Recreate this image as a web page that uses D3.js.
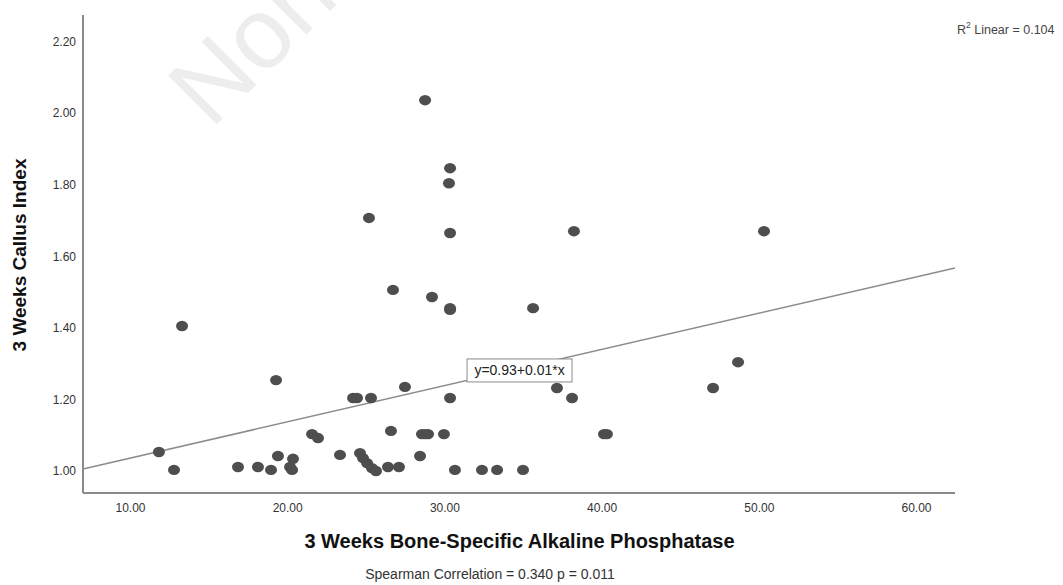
<!DOCTYPE html>
<html>
<head>
<meta charset="utf-8">
<script src="https://cdn.jsdelivr.net/npm/d3@7"></script>
<style>
  html, body { margin: 0; padding: 0; background: #fff; }
  svg { display: block; font-family: "Liberation Sans", Arial, sans-serif; }
</style>
</head>
<body>
<svg id="chart" width="1063" height="585"></svg>
<script>
// ---- data ----
const bsapValues = [11.84, 12.80, 13.31, 16.87, 18.14, 18.97, 19.29, 19.41, 20.18, 20.31, 20.37,
  21.58, 21.96, 23.36, 24.19, 24.44, 25.33, 24.63, 24.82, 25.08, 25.39, 25.65, 25.20, 26.41,
  26.60, 26.73, 27.11, 27.49, 28.45, 28.57, 28.77, 28.96, 28.77, 29.21, 29.97, 30.29, 30.36,
  30.36, 30.36, 30.36, 30.36, 30.67, 32.39, 33.35, 35.00, 35.64, 37.16, 38.12, 38.24, 40.15,
  40.34, 47.09, 48.68, 50.33];
const callusValues = [1.053, 1.003, 1.405, 1.011, 1.011, 1.003, 1.254, 1.042, 1.011, 1.003, 1.034,
  1.103, 1.092, 1.045, 1.204, 1.204, 1.204, 1.050, 1.036, 1.022, 1.008, 1.000, 1.707, 1.011,
  1.112, 1.506, 1.011, 1.235, 1.042, 1.103, 1.103, 1.103, 2.036, 1.486, 1.103, 1.804, 1.846,
  1.665, 1.455, 1.450, 1.204, 1.003, 1.003, 1.003, 1.003, 1.455, 1.232, 1.204, 1.670, 1.103,
  1.103, 1.232, 1.304, 1.670];
const xTicks = [10, 20, 30, 40, 50, 60];
const yTicks = [1.0, 1.2, 1.4, 1.6, 1.8, 2.0, 2.2];
const fitIntercept = 0.9347;
const fitSlope = 0.01012;
const fitLabel = "y=0.93+0.01*x";
const r2Text = "0.104";
const xTitle = "3 Weeks Bone-Specific Alkaline Phosphatase";
const yTitle = "3 Weeks Callus Index";
const footnote = "Spearman Correlation = 0.340 p = 0.011";
const watermark = "Non";

// ---- layout ----
const svg = d3.select("#chart");
const mLeft = 83, mRight = 955, mTop = 15, mBottom = 493;
const x = d3.scaleLinear().domain([7.01, 62.48]).range([mLeft, mRight]);
const y = d3.scaleLinear().domain([0.9385, 2.274]).range([mBottom, mTop]);

// watermark
svg.append("text")
  .attr("transform", "translate(211,130) rotate(-45)")
  .attr("font-size", 100)
  .attr("fill", "#ededed")
  .text(watermark);

// axes
const axisColor = "#8a8a8a";
const xAxis = svg.append("g").attr("transform", `translate(0,${mBottom})`)
  .call(d3.axisBottom(x).tickValues(xTicks).tickSize(0).tickPadding(10).tickFormat(d3.format(".2f")));
xAxis.select(".domain").attr("stroke", axisColor).attr("stroke-width", 2)
  .attr("d", `M${mLeft},0H${mRight}`);
xAxis.selectAll("text").attr("font-size", 12).attr("fill", "#333")
  .attr("font-family", "Liberation Sans, Arial, sans-serif");

const yAxis = svg.append("g").attr("transform", `translate(${mLeft},0)`)
  .call(d3.axisLeft(y).tickValues(yTicks).tickSize(0).tickPadding(7).tickFormat(d3.format(".2f")));
yAxis.select(".domain").attr("stroke", axisColor).attr("stroke-width", 2)
  .attr("d", `M0,${mTop}V${mBottom}`);
yAxis.selectAll("text").attr("font-size", 12).attr("fill", "#333")
  .attr("font-family", "Liberation Sans, Arial, sans-serif");

// fit line
const fx0 = x.domain()[0], fx1 = x.domain()[1];
svg.append("line")
  .attr("x1", x(fx0)).attr("y1", y(fitIntercept + fitSlope * fx0))
  .attr("x2", x(fx1)).attr("y2", y(fitIntercept + fitSlope * fx1))
  .attr("stroke", "#8c8c8c").attr("stroke-width", 1.5);

// points
const pts = bsapValues.map((v, i) => ({ xv: v, yv: callusValues[i] }));
svg.append("g").selectAll("ellipse").data(pts).join("ellipse")
  .attr("cx", d => x(d.xv)).attr("cy", d => y(d.yv))
  .attr("rx", 6).attr("ry", 5.2)
  .attr("fill", "#4e4e4e");

// fit label box
const bx = x(31.44), by = y(1.313);
const lbl = svg.append("g").attr("transform", `translate(${bx},${by})`);
lbl.append("rect").attr("width", 105).attr("height", 23)
  .attr("fill", "#fff").attr("stroke", "#8a8a8a").attr("stroke-width", 1);
lbl.append("text").attr("x", 52.5).attr("y", 16.5).attr("text-anchor", "middle")
  .attr("font-size", 14).attr("fill", "#222").text(fitLabel);

// R² label
const r2 = svg.append("text").attr("x", 957).attr("y", 34).attr("font-size", 12.5).attr("fill", "#444");
r2.append("tspan").text("R");
r2.append("tspan").attr("dy", -6).attr("font-size", 8.5).text("2");
r2.append("tspan").attr("dy", 6).text(" Linear = " + r2Text);

// titles
svg.append("text").attr("x", 519.5).attr("y", 548).attr("text-anchor", "middle")
  .attr("font-size", 20).attr("font-weight", "bold").attr("fill", "#111").text(xTitle);
svg.append("text").attr("transform", "translate(26,255) rotate(-90)").attr("text-anchor", "middle")
  .attr("font-size", 19).attr("font-weight", "bold").attr("fill", "#111").text(yTitle);
svg.append("text").attr("x", 490).attr("y", 579).attr("text-anchor", "middle")
  .attr("font-size", 14).attr("fill", "#333").text(footnote);
</script>
</body>
</html>
